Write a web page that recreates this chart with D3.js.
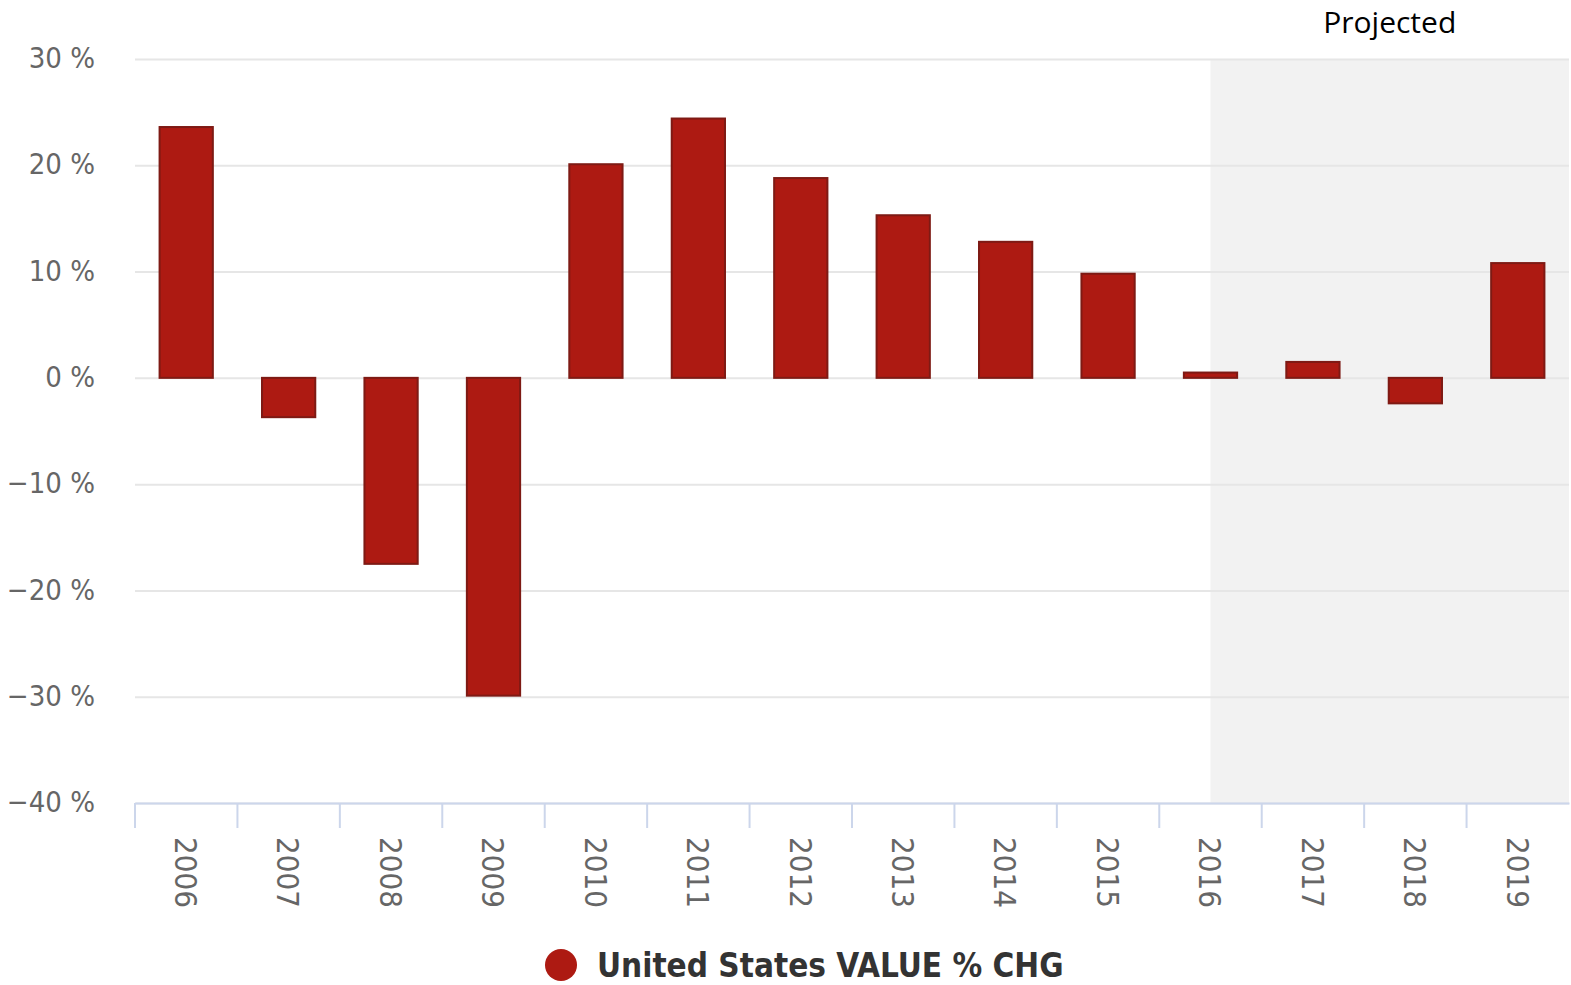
<!DOCTYPE html>
<html>
<head>
<meta charset="utf-8">
<script src="https://cdn.jsdelivr.net/npm/d3@7"></script>
<style>
  body { margin: 0; background: #fff; }
  svg text { font-family: "DejaVu Sans Condensed", "DejaVu Sans", sans-serif; font-stretch: condensed; }
</style>
</head>
<body>
<svg id="chart" width="1571" height="985"></svg>
<script>
// values
var years = ["2006","2007","2008","2009","2010","2011","2012","2013","2014","2015","2016","2017","2018","2019"];
var pctChange = [23.6, -3.7, -17.5, -29.9, 20.1, 24.4, 18.8, 15.3, 12.8, 9.8, 0.5, 1.5, -2.4, 10.8];
var yTicks = [30, 20, 10, 0, -10, -20, -30, -40];
var projectedFrom = "2016";
var seriesName = "United States VALUE % CHG";

var svg = d3.select("#chart");
var margin = {left: 135, right: 2, top: 59, bottom: 182};
var W = 1571 - margin.left - margin.right,
    H = 985 - margin.top - margin.bottom;

var g = svg.append("g").attr("transform", "translate(" + margin.left + "," + margin.top + ")");

var pad = 0.48;
var x = d3.scaleBand().domain(years).range([0, W]).paddingInner(pad).paddingOuter(pad / 2);
var y = d3.scaleLinear().domain([-40, 30]).range([H, 0]);
var step = x.step();

// projected band, from middle of 2016 to the right edge
var px = x(projectedFrom) + x.bandwidth() / 2;
g.append("rect")
  .attr("x", px).attr("y", 0)
  .attr("width", W - px).attr("height", H)
  .style("fill", "#f2f2f2");

g.append("text")
  .attr("x", (px + W) / 2)
  .attr("y", -26)
  .attr("text-anchor", "middle")
  .style("font-family", "'Open Sans', sans-serif")
  .style("font-stretch", "normal")
  .style("font-size", "30px")
  .style("fill", "#000")
  .text("Projected");

// y axis with gridlines
var yAxis = g.append("g")
  .call(d3.axisLeft(y).tickValues(yTicks).tickSize(-W).tickPadding(40)
        .tickFormat(function(d){ return (d < 0 ? "\u2212" + (-d) : d) + " %"; }));
yAxis.select(".domain").remove();
yAxis.selectAll("line").style("stroke", "#e6e6e6").style("stroke-width", 2);
yAxis.selectAll("text")
  .style("font-size", "29px")
  .style("fill", "#666")
  .attr("dy", "0.3em");

// bars
g.selectAll(".bar")
  .data(years)
  .enter()
  .append("rect")
  .attr("class", "bar")
  .attr("x", function(d){ return x(d); })
  .attr("width", x.bandwidth())
  .attr("y", function(d, i){ return y(Math.max(0, pctChange[i])); })
  .attr("height", function(d, i){ return Math.abs(y(pctChange[i]) - y(0)); })
  .style("fill", "#ad1a12")
  .style("stroke", "#7e1a14")
  .style("stroke-width", 2);

// x axis
var xAxis = g.append("g")
  .attr("transform", "translate(0," + H + ")")
  .call(d3.axisBottom(x).tickSize(0).tickPadding(0));
xAxis.select(".domain").style("stroke", "#ccd6eb").style("stroke-width", 2);
xAxis.selectAll("text")
  .attr("transform", "rotate(90)")
  .attr("x", 34)
  .attr("y", 0)
  .attr("dy", "0.36em")
  .attr("text-anchor", "start")
  .style("font-size", "31px")
  .style("fill", "#666");

// tick marks sit on the band edges
xAxis.selectAll(".edge")
  .data(years)
  .enter()
  .append("line")
  .attr("class", "edge")
  .attr("x1", function(d){ return x(d) - step * pad / 2; })
  .attr("x2", function(d){ return x(d) - step * pad / 2; })
  .attr("y1", 0).attr("y2", 25)
  .style("stroke", "#ccd6eb")
  .style("stroke-width", 2);

// legend
var legend = svg.append("g").attr("transform", "translate(561,965)");
legend.append("circle").attr("r", 16).style("fill", "#ad1a12");
legend.append("text")
  .attr("x", 36)
  .attr("dy", "0.36em")
  .style("font-size", "33px")
  .style("font-weight", "bold")
  .style("fill", "#333")
  .text(seriesName);
</script>
</body>
</html>
